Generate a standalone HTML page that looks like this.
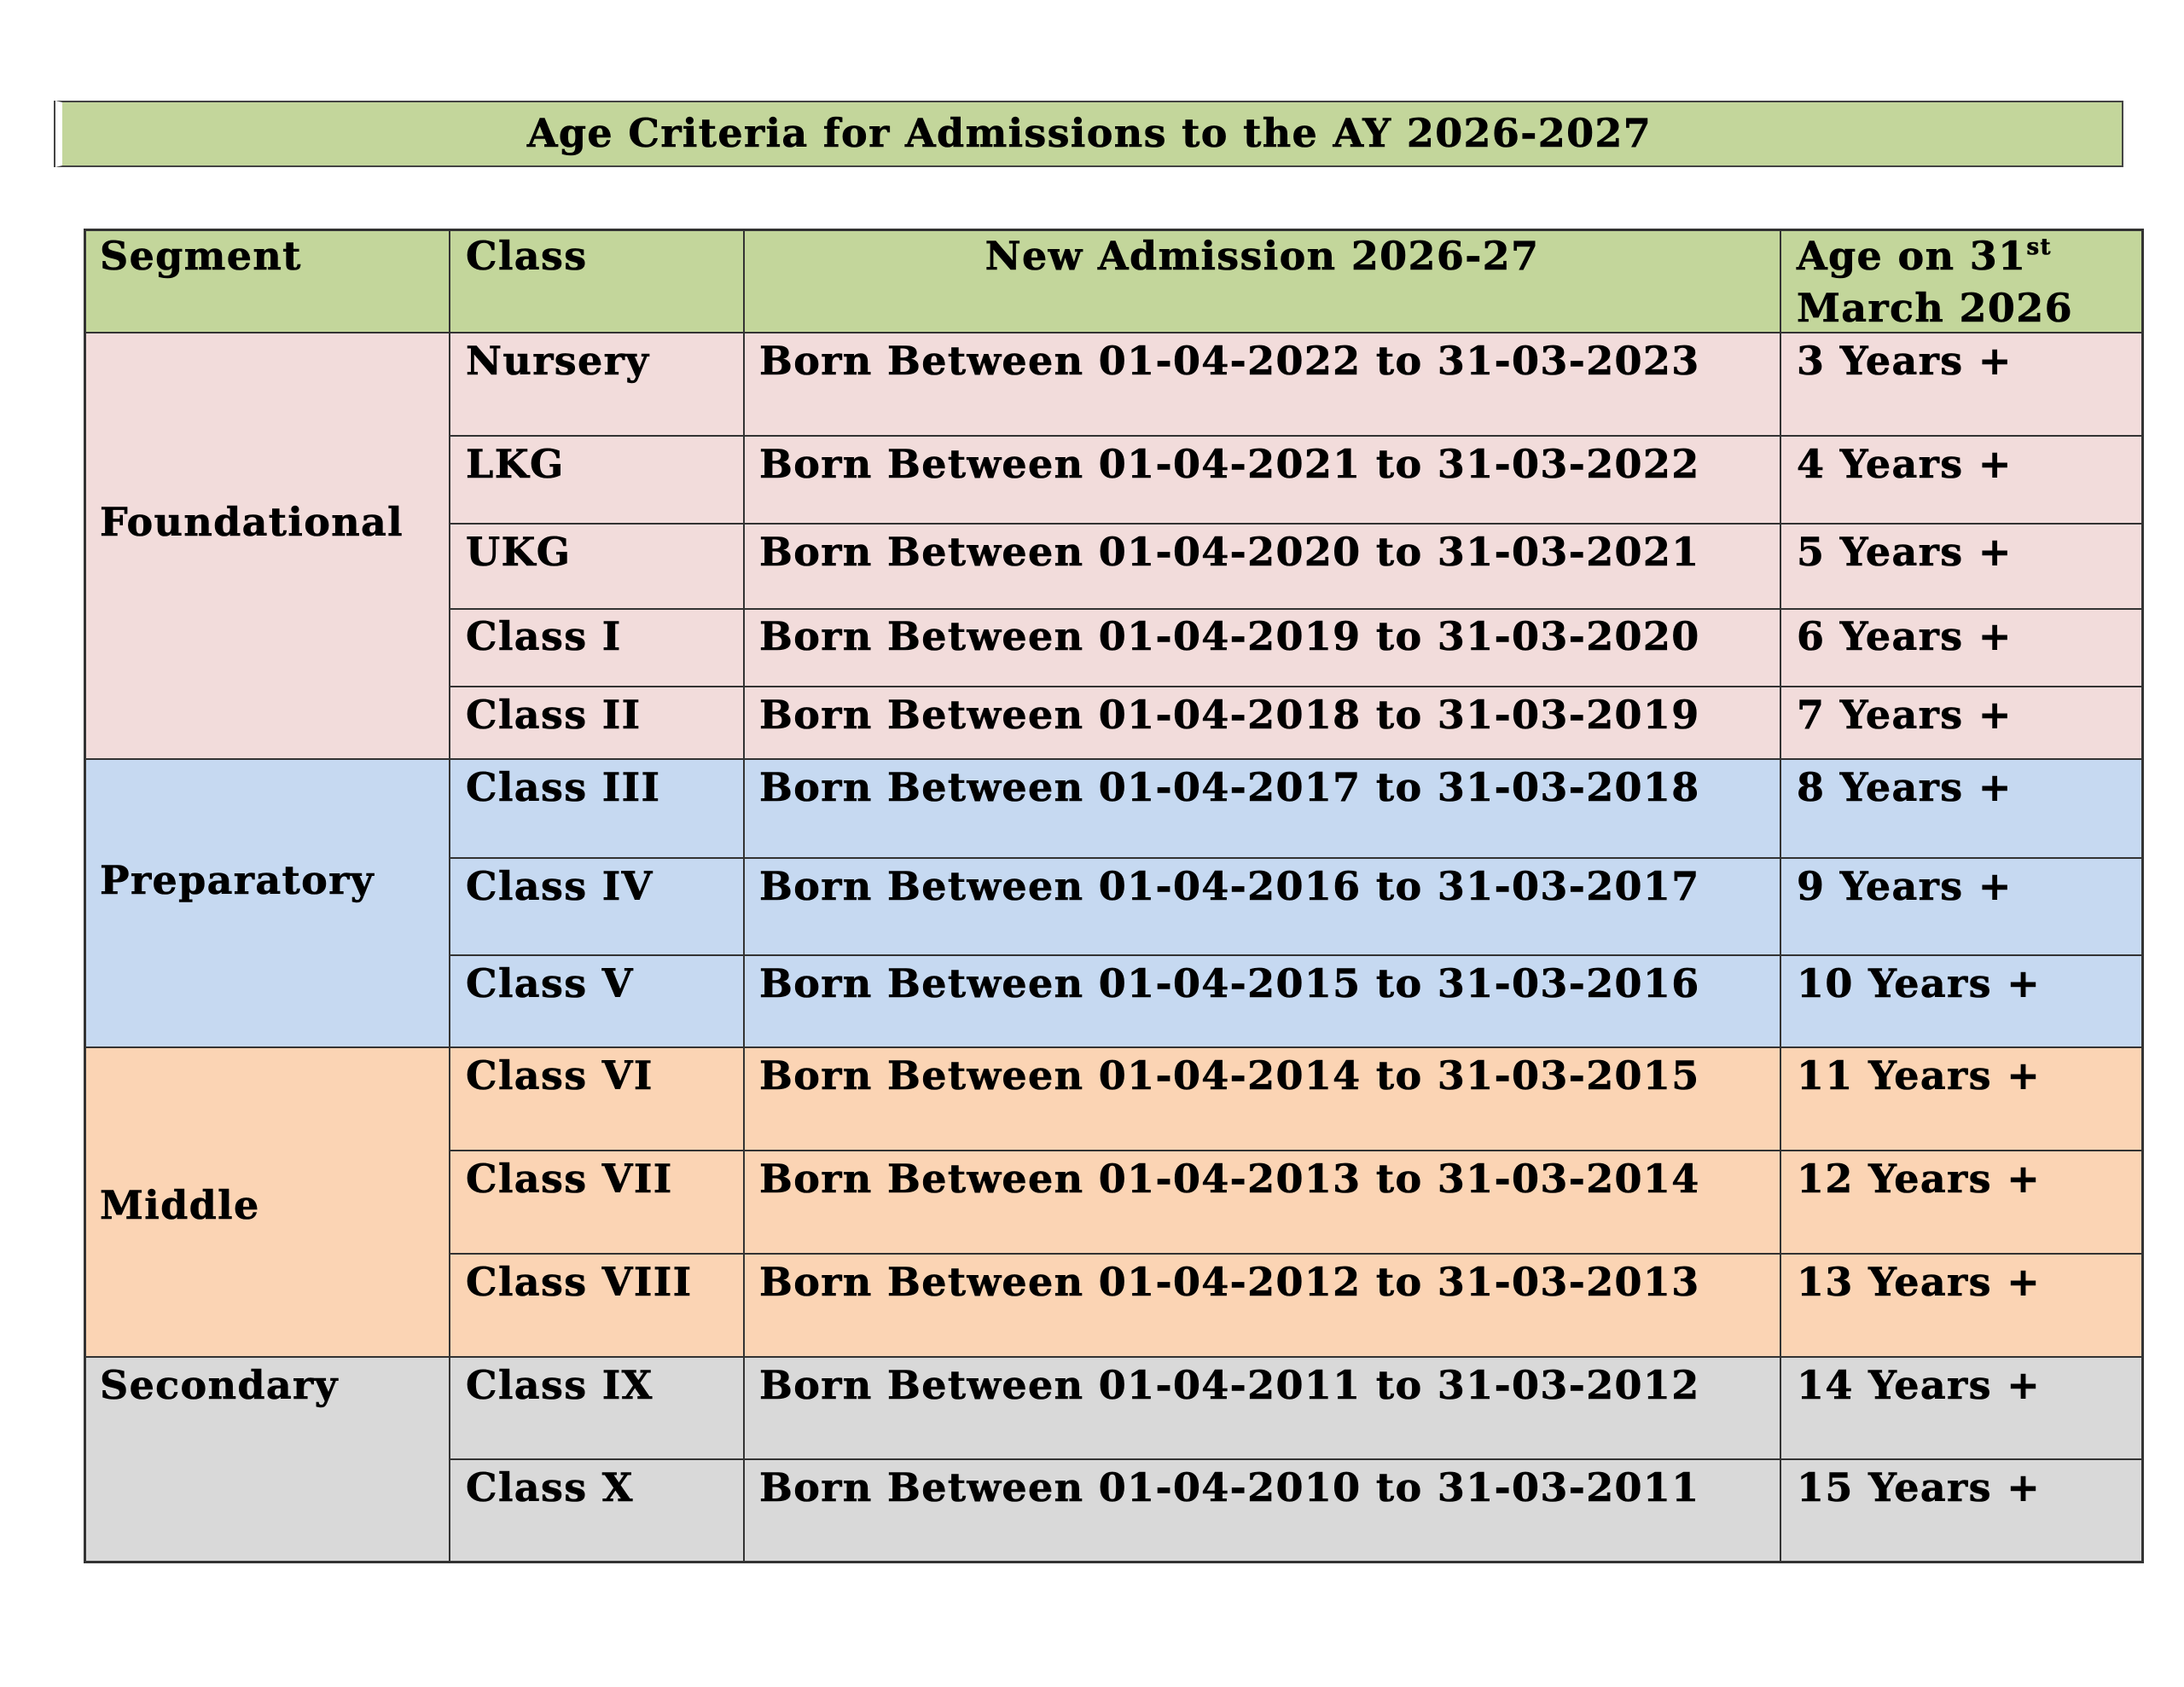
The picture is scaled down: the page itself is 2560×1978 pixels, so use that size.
<!DOCTYPE html>
<html><head><meta charset="utf-8"><style>
html,body{margin:0;padding:0;background:#fff;}
body{width:2560px;height:1978px;position:relative;overflow:hidden;font-family:"DejaVu Serif","Liberation Serif",serif;font-weight:bold;color:#000;}
.b{position:absolute;box-sizing:border-box;}
.t{position:absolute;font-size:46px;line-height:61px;white-space:nowrap;letter-spacing:1.35px;-webkit-text-stroke:0.6px #000;}
.h{position:absolute;background:#333;}
</style></head><body>
<!-- title -->
<div class="b" style="left:65px;top:118px;width:2424px;height:78px;border:2px solid #444;background:#c3d69b;border-left:8px solid #fff;box-shadow:-2px 0 0 #444;"></div>
<div class="t" style="left:65px;width:2424px;top:126px;text-align:center;font-size:46px;">Age Criteria for Admissions to the AY 2026-2027</div>

<!-- backgrounds -->
<div class="b" style="left:98px;top:268px;width:2414px;height:122px;background:#c3d69b"></div>
<div class="b" style="left:98px;top:390px;width:2414px;height:500px;background:#f2dcdb"></div>
<div class="b" style="left:98px;top:890px;width:2414px;height:338px;background:#c6d9f1"></div>
<div class="b" style="left:98px;top:1228px;width:2414px;height:363px;background:#fbd4b4"></div>
<div class="b" style="left:98px;top:1591px;width:2414px;height:241px;background:#d9d9d9"></div>

<!-- outer border -->
<div class="b" style="left:98px;top:268px;width:2415px;height:1565px;border:3px solid #333;"></div>
<!-- vertical lines -->
<div class="h" style="left:526px;top:268px;width:2px;height:1564px"></div>
<div class="h" style="left:871px;top:268px;width:2px;height:1564px"></div>
<div class="h" style="left:2086px;top:268px;width:2px;height:1564px"></div>
<!-- horizontal lines full -->
<div class="h" style="left:98px;top:389px;width:2414px;height:2px"></div>
<div class="h" style="left:98px;top:889px;width:2414px;height:2px"></div>
<div class="h" style="left:98px;top:1227px;width:2414px;height:2px"></div>
<div class="h" style="left:98px;top:1590px;width:2414px;height:2px"></div>
<!-- partial -->
<div class="h" style="left:526px;top:510px;width:1986px;height:2px"></div>
<div class="h" style="left:526px;top:613px;width:1986px;height:2px"></div>
<div class="h" style="left:526px;top:713px;width:1986px;height:2px"></div>
<div class="h" style="left:526px;top:804px;width:1986px;height:2px"></div>
<div class="h" style="left:526px;top:1005px;width:1986px;height:2px"></div>
<div class="h" style="left:526px;top:1119px;width:1986px;height:2px"></div>
<div class="h" style="left:526px;top:1348px;width:1986px;height:2px"></div>
<div class="h" style="left:526px;top:1469px;width:1986px;height:2px"></div>
<div class="h" style="left:526px;top:1710px;width:1986px;height:2px"></div>

<!-- header -->
<div class="t" style="left:117px;top:270px">Segment</div>
<div class="t" style="left:546px;top:270px">Class</div>
<div class="t" style="left:873px;width:1213px;top:270px;text-align:center">New Admission 2026-27</div>
<div class="t" style="left:2106px;top:270px">Age on 31<sup style="font-size:26px;vertical-align:18px;line-height:0">st</sup><br>March 2026</div>

<!-- segments -->
<div class="t" style="left:117px;top:582px">Foundational</div>
<div class="t" style="left:117px;top:1002px">Preparatory</div>
<div class="t" style="left:117px;top:1383px">Middle</div>
<div class="t" style="left:117px;top:1594px">Secondary</div>

<!-- rows -->
<div class="t" style="left:546px;top:393px">Nursery</div><div class="t" style="left:890px;top:393px">Born Between 01-04-2022 to 31-03-2023</div><div class="t" style="left:2106px;top:393px">3 Years +</div>
<div class="t" style="left:546px;top:514px">LKG</div><div class="t" style="left:890px;top:514px">Born Between 01-04-2021 to 31-03-2022</div><div class="t" style="left:2106px;top:514px">4 Years +</div>
<div class="t" style="left:546px;top:617px">UKG</div><div class="t" style="left:890px;top:617px">Born Between 01-04-2020 to 31-03-2021</div><div class="t" style="left:2106px;top:617px">5 Years +</div>
<div class="t" style="left:546px;top:716px">Class I</div><div class="t" style="left:890px;top:716px">Born Between 01-04-2019 to 31-03-2020</div><div class="t" style="left:2106px;top:716px">6 Years +</div>
<div class="t" style="left:546px;top:808px">Class II</div><div class="t" style="left:890px;top:808px">Born Between 01-04-2018 to 31-03-2019</div><div class="t" style="left:2106px;top:808px">7 Years +</div>
<div class="t" style="left:546px;top:893px">Class III</div><div class="t" style="left:890px;top:893px">Born Between 01-04-2017 to 31-03-2018</div><div class="t" style="left:2106px;top:893px">8 Years +</div>
<div class="t" style="left:546px;top:1009px">Class IV</div><div class="t" style="left:890px;top:1009px">Born Between 01-04-2016 to 31-03-2017</div><div class="t" style="left:2106px;top:1009px">9 Years +</div>
<div class="t" style="left:546px;top:1123px">Class V</div><div class="t" style="left:890px;top:1123px">Born Between 01-04-2015 to 31-03-2016</div><div class="t" style="left:2106px;top:1123px">10 Years +</div>
<div class="t" style="left:546px;top:1231px">Class VI</div><div class="t" style="left:890px;top:1231px">Born Between 01-04-2014 to 31-03-2015</div><div class="t" style="left:2106px;top:1231px">11 Years +</div>
<div class="t" style="left:546px;top:1352px">Class VII</div><div class="t" style="left:890px;top:1352px">Born Between 01-04-2013 to 31-03-2014</div><div class="t" style="left:2106px;top:1352px">12 Years +</div>
<div class="t" style="left:546px;top:1473px">Class VIII</div><div class="t" style="left:890px;top:1473px">Born Between 01-04-2012 to 31-03-2013</div><div class="t" style="left:2106px;top:1473px">13 Years +</div>
<div class="t" style="left:546px;top:1594px">Class IX</div><div class="t" style="left:890px;top:1594px">Born Between 01-04-2011 to 31-03-2012</div><div class="t" style="left:2106px;top:1594px">14 Years +</div>
<div class="t" style="left:546px;top:1714px">Class X</div><div class="t" style="left:890px;top:1714px">Born Between 01-04-2010 to 31-03-2011</div><div class="t" style="left:2106px;top:1714px">15 Years +</div>
</body></html>
